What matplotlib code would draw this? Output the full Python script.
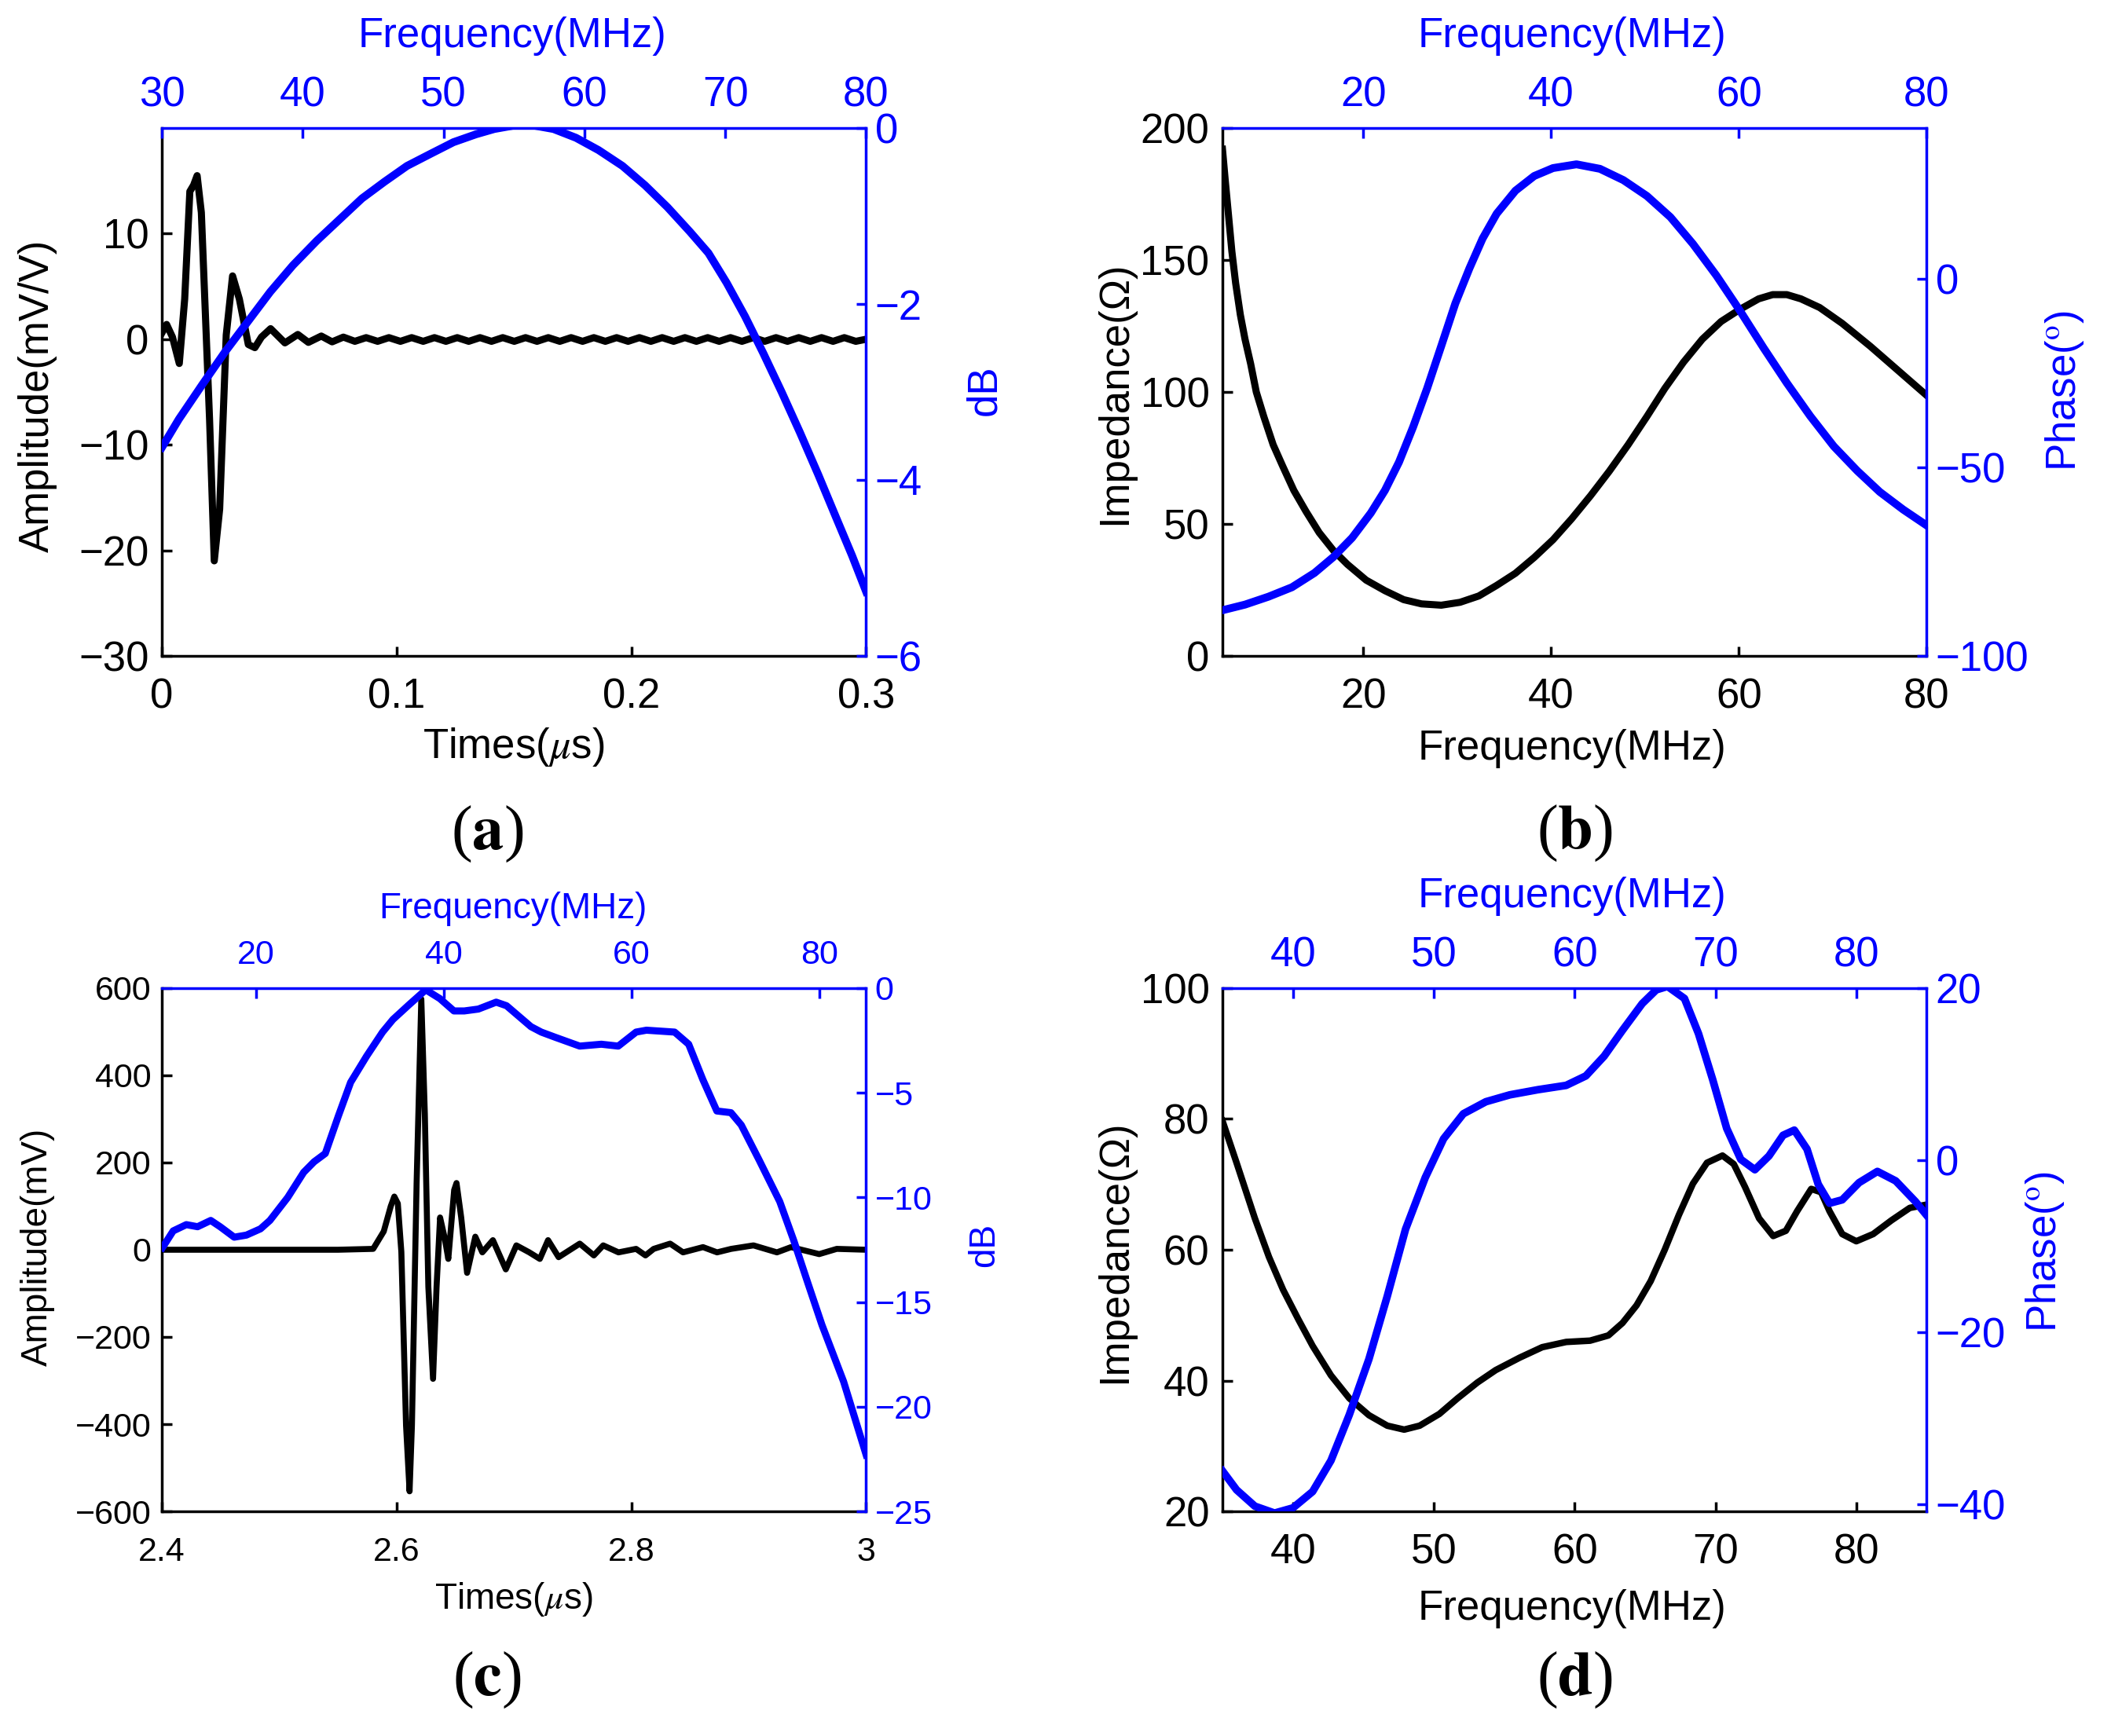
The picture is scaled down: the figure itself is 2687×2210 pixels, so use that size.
import matplotlib
matplotlib.use('Agg')
import matplotlib.pyplot as plt

plt.rcParams['font.family'] = ['Liberation Sans', 'DejaVu Sans']
plt.rcParams['mathtext.fontset'] = 'stix'
plt.rcParams['axes.unicode_minus'] = True

BLUE = '#0000ff'

# ---------------- (a) pulse echo + spectrum ----------------
a_time = [0.0, 0.002, 0.0045, 0.0074, 0.0097, 0.0119, 0.0135, 0.015, 0.0168, 0.0203,
          0.0223, 0.0246, 0.0274, 0.0301, 0.033, 0.0368, 0.0396, 0.0424, 0.0463, 0.0524,
          0.0579, 0.0624, 0.0679, 0.0725, 0.0773, 0.0822, 0.087, 0.0919, 0.0967, 0.1016,
          0.1064, 0.1113, 0.1161, 0.121, 0.1258, 0.1307, 0.1355, 0.1404, 0.1452, 0.1501,
          0.1549, 0.1598, 0.1646, 0.1695, 0.1743, 0.1792, 0.184, 0.1889, 0.1937, 0.1986,
          0.2034, 0.2083, 0.2131, 0.218, 0.2228, 0.2277, 0.2325, 0.2374, 0.2422, 0.2471,
          0.2519, 0.2568, 0.2616, 0.2665, 0.2713, 0.2762, 0.281, 0.2859, 0.2907, 0.2956, 0.3]
a_amp = [0.6, 1.4, 0.2, -2.3, 3.8, 14.0, 14.6, 15.5, 12.0, -7.6,
         -21.0, -16.1, 0.4, 6.0, 3.8, -0.5, -0.8, 0.2, 1.0, -0.35,
         0.45, -0.3, 0.3, -0.25, 0.2, -0.2, 0.15, -0.2, 0.15, -0.2,
         0.15, -0.2, 0.15, -0.2, 0.15, -0.2, 0.15, -0.2, 0.15, -0.2,
         0.15, -0.2, 0.15, -0.2, 0.15, -0.2, 0.15, -0.2, 0.15, -0.2,
         0.15, -0.2, 0.15, -0.2, 0.15, -0.2, 0.15, -0.2, 0.15, -0.2,
         0.15, -0.2, 0.15, -0.2, 0.15, -0.2, 0.15, -0.2, 0.15, -0.2, 0.0]
a_freq = [30, 31.2, 32.85, 34.5, 36.1, 37.7, 39.3, 41.0, 42.6, 44.2, 45.8, 47.4, 49.1,
          50.7, 52.3, 53.6, 55.7, 57.8, 59.4, 61.0, 62.7, 64.3, 65.9, 67.5, 68.8, 70.1,
          71.4, 72.7, 74.0, 75.3, 76.6, 77.9, 79.0, 80]
a_db = [-3.63, -3.31, -2.92, -2.54, -2.2, -1.86, -1.56, -1.28, -1.04, -0.80, -0.61, -0.43,
        -0.29, -0.16, -0.07, -0.01, 0.05, -0.01, -0.11, -0.25, -0.43, -0.65, -0.9, -1.18,
        -1.42, -1.76, -2.14, -2.56, -3.0, -3.46, -3.94, -4.44, -4.86, -5.27]

# ---------------- (b) impedance / phase ----------------
b_freq_z = [5.0, 5.3, 5.65, 6.0, 6.4, 6.9, 7.4, 8.0, 8.6, 9.4, 10.4, 11.4, 12.6, 13.9,
            15.3, 16.8, 18.3, 20.3, 22.3, 24.3, 26.2, 28.3, 30.3, 32.3, 34.2, 36.2, 38.2,
            40.2, 42.2, 44.2, 46.2, 48.2, 50.2, 52.1, 54.1, 56.1, 58.1, 60.1, 62.1, 63.6,
            65.1, 66.6, 68.6, 71.0, 74.0, 77.0, 80.0]
b_imp = [192, 180, 166.7, 153.3, 141.3, 129.3, 120, 110.7, 100, 90.7, 80, 72, 62.7, 54.7,
         46.7, 40, 34.7, 28.7, 24.7, 21.3, 19.7, 19.2, 20.3, 22.7, 26.7, 31.3, 37.3,
         44, 52, 60.7, 70, 80, 90.7, 101.3, 111.3, 120, 126.7, 131.3, 135.3, 136.9,
         136.9, 135.3, 132, 126, 117.3, 108, 98.7]
b_freq_p = [5.0, 7.4, 9.9, 12.4, 14.8, 16.8, 18.8, 20.8, 22.3, 23.8, 25.3, 26.8, 28.3,
            29.8, 31.3, 32.7, 34.2, 36.2, 38.2, 40.2, 42.7, 45.2, 47.7, 50.2, 52.7, 55.1,
            57.6, 60.1, 62.6, 65.1, 67.6, 70.1, 72.6, 75.0, 77.5, 80.0]
b_phase = [-87.9, -86.4, -84.3, -81.8, -78.0, -73.8, -68.7, -62.1, -56.1, -48.6, -39.3,
           -29.0, -17.8, -6.5, 2.8, 10.7, 17.3, 23.4, 27.3, 29.4, 30.4, 29.2, 26.2, 22.0,
           16.4, 9.3, 0.9, -8.4, -18.2, -27.6, -36.4, -44.4, -50.9, -56.5, -61.2, -65.4]

# ---------------- (c) pulse echo + spectrum ----------------
c_time = [2.4, 2.45, 2.5, 2.55, 2.58, 2.589, 2.595, 2.598, 2.601, 2.604, 2.608, 2.611,
          2.613, 2.617, 2.621, 2.624, 2.627, 2.631, 2.634, 2.637, 2.641, 2.644, 2.649,
          2.651, 2.655, 2.660, 2.667, 2.673, 2.682, 2.693, 2.702, 2.713, 2.722, 2.729,
          2.738, 2.756, 2.768, 2.776, 2.789, 2.804, 2.812, 2.819, 2.833, 2.844, 2.861,
          2.873, 2.885, 2.904, 2.924, 2.936, 2.960, 2.975, 3.0]
c_amp = [0, 0, 0, 0, 2, 42, 100, 122, 106, -5, -403, -554,
         -403, 153, 575, 312, -85, -296, -85, 74, 26, -21, 137,
         153, 74, -53, 30, -6, 22, -45, 10, -6, -21, 22,
         -17, 14, -13, 10, -6, 2, -13, 2, 14, -6, 6,
         -6, 2, 10, -6, 6, -10, 2, 0]
c_freq = [10.06, 11.2, 12.6, 13.8, 15.2, 16.2, 17.7, 19.0, 20.5, 21.5, 23.4, 25.1, 26.2,
          27.4, 28.8, 30.1, 31.8, 33.5, 34.6, 36.3, 38.1, 39.6, 41.1, 42.2, 43.7, 45.6,
          46.7, 49.3, 50.4, 51.9, 54.5, 56.8, 58.6, 60.5, 61.6, 64.6, 66.1, 67.6, 69.1,
          70.6, 71.7, 73.6, 75.8, 77.3, 78.8, 80.3, 82.6, 85]
c_db = [-12.4, -11.6, -11.3, -11.4, -11.1, -11.4, -11.9, -11.8, -11.5, -11.1, -10.0, -8.8,
        -8.3, -7.9, -6.1, -4.5, -3.25, -2.1, -1.5, -0.8, -0.08, -0.5, -1.09, -1.09, -1.0,
        -0.67, -0.84, -1.84, -2.1, -2.35, -2.77, -2.68, -2.77, -2.1, -2.01, -2.1, -2.68,
        -4.36, -5.87, -5.95, -6.54, -8.21, -10.2, -12.07, -14.1, -16.1, -18.8, -22.3]

# ---------------- (d) impedance / phase ----------------
d_freq_z = [35.0, 36.0, 37.3, 38.3, 39.3, 40.4, 41.4, 42.7, 44.0, 45.4, 46.7, 47.9, 49.0,
            50.4, 51.7, 53.1, 54.4, 56.1, 57.7, 59.4, 61.1, 62.4, 63.4, 64.4, 65.4, 66.4,
            67.4, 68.4, 69.4, 70.5, 71.3, 72.1, 73.1, 74.1, 75.0, 75.8, 76.8, 77.5, 78.1,
            79.0, 80.0, 81.2, 82.5, 83.8, 85.0]
d_imp = [79.7, 73.3, 64.8, 58.9, 53.9, 49.3, 45.3, 40.8, 37.3, 34.7, 33.1, 32.5, 33.1,
         34.9, 37.3, 39.7, 41.6, 43.5, 45.1, 45.9, 46.1, 46.9, 48.8, 51.5, 55.2, 60.0,
         65.3, 70.1, 73.3, 74.4, 73.1, 69.6, 64.8, 62.1, 62.9, 65.9, 69.3, 68.8, 65.9,
         62.4, 61.3, 62.4, 64.5, 66.4, 66.9]
d_freq_p = [35.0, 36.0, 37.3, 38.7, 40.0, 41.4, 42.7, 44.0, 45.4, 46.7, 48.0, 49.4, 50.7,
            52.1, 53.7, 55.4, 57.4, 59.4, 60.8, 62.1, 63.4, 64.8, 65.8, 66.6, 67.8, 68.8,
            69.8, 70.8, 71.8, 72.8, 73.8, 74.8, 75.6, 76.5, 77.3, 78.1, 79.0, 80.2, 81.5,
            82.8, 84.2, 85.0]
d_phase = [-36.1, -38.3, -40.2, -41.0, -40.4, -38.5, -34.9, -29.6, -23.1, -15.8, -8.0,
           -2.0, 2.5, 5.4, 6.8, 7.6, 8.2, 8.7, 9.8, 12.1, 15.1, 18.2, 19.8, 20.2, 18.8,
           14.7, 9.4, 3.7, 0.1, -1.1, 0.5, 2.9, 3.5, 1.3, -2.8, -5.0, -4.6, -2.6, -1.3,
           -2.4, -4.8, -6.4]


fig = plt.figure(figsize=(26.87, 22.10), dpi=100)


def panel(rect, fs, pads):
    ax = fig.add_axes(rect)
    ax2 = fig.add_axes(rect, facecolor='none')
    ax2.xaxis.tick_top()
    ax2.yaxis.tick_right()
    ax2.xaxis.set_label_position('top')
    ax2.yaxis.set_label_position('right')
    for s in ['top', 'right']:
        ax.spines[s].set_visible(False)
    for s in ['bottom', 'left']:
        ax2.spines[s].set_visible(False)
    for s in ['bottom', 'left']:
        ax.spines[s].set_linewidth(2.5)
    for s in ['top', 'right']:
        ax2.spines[s].set_linewidth(2.5)
        ax2.spines[s].set_color(BLUE)
    ax.tick_params(direction='in', length=9, width=2.5, labelsize=fs)
    ax.tick_params(axis='x', pad=pads[0])
    ax.tick_params(axis='y', pad=pads[1])
    ax2.tick_params(direction='in', length=9, width=2.5, labelsize=fs,
                    colors=BLUE)
    ax2.tick_params(axis='x', pad=pads[2])
    ax2.tick_params(axis='y', pad=pads[3])
    return ax, ax2


def place_labels(ax, ax2, xl, yl, x2l, y2l, fs, coords):
    ax.set_xlabel(xl, fontsize=fs)
    ax.set_ylabel(yl, fontsize=fs)
    ax2.set_xlabel(x2l, fontsize=fs, color=BLUE)
    ax2.set_ylabel(y2l, fontsize=fs, color=BLUE)
    labs = [ax.xaxis, ax.yaxis, ax2.xaxis, ax2.yaxis]
    for axis, (cx, cy) in zip(labs, coords):
        axis.set_label_coords(cx, cy)
        axis.label.set_va('center')
        axis.label.set_ha('center')


W = 0.3336
H_top = 0.304
H_bot = 0.3014
L1, L2 = 0.0767, 0.5791
B1, B2 = 0.6222, 0.1294

# (a)
ax, ax2 = panel([L1, B1, W, H_top], 38, (20, 12, 12, 8))
ax.plot(a_time, a_amp, color='black', lw=6.5)
ax.set_xlim(0, 0.3)
ax.set_ylim(-30, 20)
ax.set_xticks([0, 0.1, 0.2, 0.3])
ax.set_xticklabels(['0', '0.1', '0.2', '0.3'])
ax.set_yticks([-30, -20, -10, 0, 10])
ax2.plot(a_freq, a_db, color=BLUE, lw=7.2)
ax2.set_xlim(30, 80)
ax2.set_ylim(-6, 0)
ax2.set_xticks([30, 40, 50, 60, 70, 80])
ax2.set_yticks([-6, -4, -2, 0])
place_labels(ax, ax2, r'Times($\mu$s)', 'Amplitude(mV/V)', 'Frequency(MHz)', 'dB', 38,
             [(0.499, -0.173), (-0.176, 0.493), (0.497, 1.174), (1.168, 0.503)])

# (b)
ax, ax2 = panel([L2, B1, W, H_top], 38, (20, 12, 12, 8))
ax.plot(b_freq_z, b_imp, color='black', lw=6.5)
ax.set_xlim(5, 80)
ax.set_ylim(0, 200)
ax.set_xticks([20, 40, 60, 80])
ax.set_yticks([0, 50, 100, 150, 200])
ax2.plot(b_freq_p, b_phase, color=BLUE, lw=7.2)
ax2.set_xlim(5, 80)
ax2.set_ylim(-100, 40)
ax2.set_xticks([20, 40, 60, 80])
ax2.set_yticks([-100, -50, 0])
place_labels(ax, ax2, 'Frequency(MHz)', 'Impedance(Ω)', 'Frequency(MHz)',
             r'Phase($^{\mathrm{o}}$)', 38,
             [(0.496, -0.176), (-0.153, 0.498), (0.496, 1.174), (1.196, 0.503)])

# (c)
ax, ax2 = panel([L1, B2, W, H_bot], 31, (23, 10, 16, 8))
ax.plot(c_time, c_amp, color='black', lw=5.5)
ax.set_xlim(2.4, 3.0)
ax.set_ylim(-600, 600)
ax.set_xticks([2.4, 2.6, 2.8, 3.0])
ax.set_xticklabels(['2.4', '2.6', '2.8', '3'])
ax.set_yticks([-600, -400, -200, 0, 200, 400, 600])
ax2.plot(c_freq, c_db, color=BLUE, lw=6.5)
ax2.set_xlim(10, 85)
ax2.set_ylim(-25, 0)
ax2.set_xticks([20, 40, 60, 80])
ax2.set_yticks([-25, -20, -15, -10, -5, 0])
place_labels(ax, ax2, r'Times($\mu$s)', 'Amplitude(mV)', 'Frequency(MHz)', 'dB', 33,
             [(0.499, -0.168), (-0.176, 0.506), (0.499, 1.152), (1.168, 0.509)])

# (d)
ax, ax2 = panel([L2, B2, W, H_bot], 38, (20, 12, 12, 8))
ax.plot(d_freq_z, d_imp, color='black', lw=6.0)
ax.set_xlim(35, 85)
ax.set_ylim(20, 100)
ax.set_xticks([40, 50, 60, 70, 80])
ax.set_yticks([20, 40, 60, 80, 100])
ax2.plot(d_freq_p, d_phase, color=BLUE, lw=7.0)
ax2.set_xlim(35, 85)
ax2.set_ylim(-40.8, 20)
ax2.set_xticks([40, 50, 60, 70, 80])
ax2.set_yticks([-40, -20, 0, 20])
place_labels(ax, ax2, 'Frequency(MHz)', 'Impedance(Ω)', 'Frequency(MHz)',
             r'Phase($^{\mathrm{o}}$)', 38,
             [(0.496, -0.186), (-0.153, 0.496), (0.496, 1.176), (1.168, 0.496)])

# panel letters
for x, y, s in [(0.2307, 0.5195, 'a'), (0.746, 0.5199, 'b'),
                (0.2307, 0.0321, 'c'), (0.746, 0.0321, 'd')]:
    fig.text(x, y, r'($\mathbf{%s}$)' % s, fontsize=58, ha='center', va='center',
             family='Liberation Serif')

fig.savefig('out.png', dpi=100, facecolor='white')
